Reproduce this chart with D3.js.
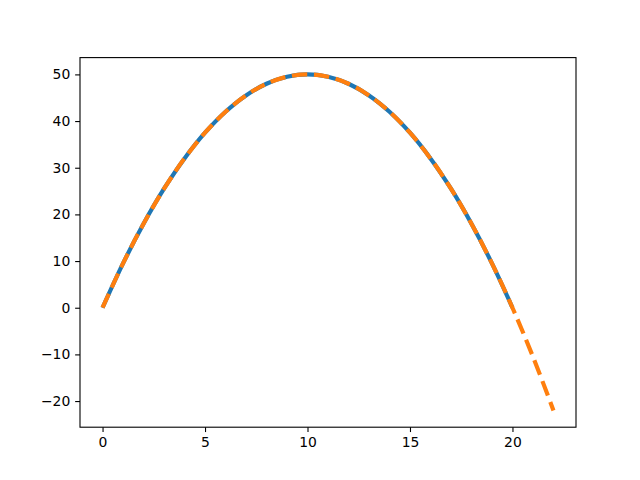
<!DOCTYPE html>
<html>
<head>
<meta charset="utf-8">
<script src="https://cdn.jsdelivr.net/npm/d3@7"></script>
<style>
  body { margin: 0; background: #fff; }
  text { font-family: "DejaVu Sans", sans-serif; }
</style>
</head>
<body>
<div id="chart"></div>
<script>
// data
const xs = [0, 1, 2, 3, 4, 5, 6, 7, 8, 9, 10, 11, 12, 13, 14, 15, 16, 17, 18, 19, 20, 21, 22];
const solidY = [0, 9.5, 18, 25.5, 32, 37.5, 42, 45.5, 48, 49.5, 50, 49.5, 48, 45.5, 42, 37.5, 32, 25.5, 18, 9.5, 0];
const dashedY = [0, 9.5, 18, 25.5, 32, 37.5, 42, 45.5, 48, 49.5, 50, 49.5, 48, 45.5, 42, 37.5, 32, 25.5, 18, 9.5, 0, -10.5, -22];
const xTicks = [0, 5, 10, 15, 20];
const yTicks = [-20, -10, 0, 10, 20, 30, 40, 50];

// layout like the default figure
const W = 640, H = 480;
const margin = {top: 57.6, right: 64, bottom: 52.8, left: 80};
const width = W - margin.left - margin.right;
const height = H - margin.top - margin.bottom;

const svg = d3.select('#chart').append('svg')
    .attr('width', W)
    .attr('height', H);

const g = svg.append('g')
    .attr('transform', 'translate(' + margin.left + ',' + margin.top + ')');

const xScale = d3.scaleLinear()
    .domain([-1.1, 23.1])
    .range([0, width]);

const yScale = d3.scaleLinear()
    .domain([-25.6, 53.6])
    .range([height, 0]);

const clip = g.append('clipPath').attr('id', 'clip')
    .append('rect').attr('width', width).attr('height', height);

const line = d3.line()
    .x(d => xScale(d[0]))
    .y(d => yScale(d[1]))
    .curve(d3.curveCatmullRom);

const lines = g.append('g').attr('clip-path', 'url(#clip)');

lines.append('path')
    .datum(solidY.map((y, i) => [xs[i], y]))
    .attr('d', line)
    .attr('fill', 'none')
    .attr('stroke', '#1f77b4')
    .attr('stroke-width', 4.17);

lines.append('path')
    .datum(dashedY.map((y, i) => [xs[i], y]))
    .attr('d', line)
    .attr('fill', 'none')
    .attr('stroke', '#ff7f0e')
    .attr('stroke-width', 4.17)
    .attr('stroke-dasharray', '15.4,6.7');

// axes
const xAxis = d3.axisBottom(xScale)
    .tickValues(xTicks)
    .tickSize(4.86)
    .tickPadding(4.86);

const yAxis = d3.axisLeft(yScale)
    .tickValues(yTicks)
    .tickSize(4.86)
    .tickPadding(4.86);

const xAxisGroup = g.append('g')
    .attr('transform', 'translate(0,' + height + ')')
    .call(xAxis);

const yAxisGroup = g.append('g')
    .call(yAxis);

[xAxisGroup, yAxisGroup].forEach(ax => {
    ax.select('.domain').remove();
    ax.selectAll('line').attr('stroke', '#000').attr('stroke-width', 1.1);
    ax.selectAll('text')
        .attr('font-size', 13.9)
        .attr('font-family', '"DejaVu Sans", sans-serif')
        .attr('fill', '#000');
});

// frame
g.append('rect')
    .attr('width', width)
    .attr('height', height)
    .attr('fill', 'none')
    .attr('stroke', '#000')
    .attr('stroke-width', 1.1);
</script>
</body>
</html>
